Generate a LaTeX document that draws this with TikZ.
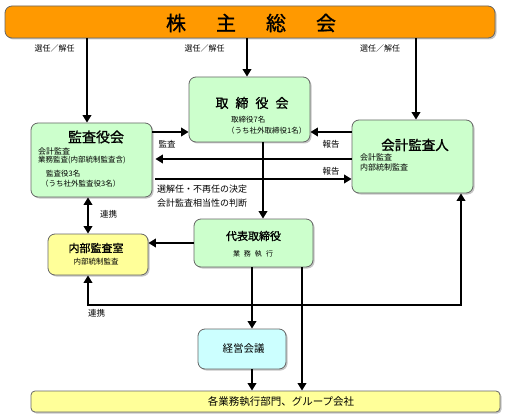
\documentclass[tikz,border=0pt]{standalone}
\usepackage{fontspec}
\setmainfont{Noto Sans CJK JP}
\newfontfamily\heavy{Noto Sans CJK JP}[FakeBold=1.2]
\usetikzlibrary{arrows.meta,shadows}
\definecolor{orangeC}{HTML}{FF9900}
\definecolor{greenC}{HTML}{CCFFCC}
\definecolor{yellowC}{HTML}{FFFF99}
\definecolor{cyanC}{HTML}{CCFFFF}
\tikzset{
  box/.style={draw=black!60, line width=0.8pt, rounded corners=7pt,
    drop shadow={shadow xshift=1.5pt, shadow yshift=-1.5pt, fill=black!45},
    inner sep=0pt},
  arr/.style={line width=2.5pt, -{Triangle[length=7.5pt,width=8.5pt]}},
  dblarr/.style={line width=2.5pt, {Triangle[length=7.5pt,width=8.5pt]}-{Triangle[length=7.5pt,width=8.5pt]}},
  lab/.style={inner sep=0pt, font=\fontsize{8.5}{10}\selectfont},
  sub/.style={inner sep=0pt, anchor=west, font=\fontsize{7.5}{9}\selectfont},
}
\begin{document}
\begin{tikzpicture}[x=1pt,y=-1pt]
\useasboundingbox (0,0) rectangle (506,417);
% boxes
\node[box, fill=orangeC, minimum width=490pt, minimum height=32pt] (top) at (250,22) {};
\node[box, fill=greenC, minimum width=121pt, minimum height=65pt] (tb) at (249.5,109.5) {};
\node[box, fill=greenC, minimum width=121pt, minimum height=73pt] (ka) at (412.5,156.5) {};
\node[box, fill=greenC, minimum width=121pt, minimum height=74pt] (ks) at (91.5,160) {};
\node[box, fill=greenC, minimum width=119pt, minimum height=48pt] (dt) at (253.5,243) {};
\node[box, fill=yellowC, minimum width=100pt, minimum height=41pt] (nb) at (98,254.5) {};
\node[box, fill=cyanC, minimum width=88pt, minimum height=40pt] (kk) at (242,349) {};
\node[box, fill=yellowC, minimum width=469pt, minimum height=21pt, rounded corners=4pt] (bb) at (265.5,401.5) {};
% texts in boxes
\node[inner sep=0pt, font=\heavy\fontsize{20}{22}\selectfont] (tTop) at (251,23) {株\hspace{30pt}主\hspace{30pt}総\hspace{30pt}会};
\node[inner sep=0pt, font=\heavy\fontsize{13}{15}\selectfont] (tTb) at (252,103) {取\hspace{7pt}締\hspace{7pt}役\hspace{7pt}会};
\node[sub] (tTb1) at (231,120) {取締役7名};
\node[sub] (tTb2) at (227,131) {（うち社外取締役1名）};
\node[inner sep=0pt, font=\heavy\fontsize{13.5}{15}\selectfont] (tKa) at (415,145) {会計監査人};
\node[sub, font=\fontsize{8}{9}\selectfont] (tKa1) at (360,157) {会計監査};
\node[sub, font=\fontsize{8}{9}\selectfont] (tKa2) at (360,167) {内部統制監査};
\node[inner sep=0pt, font=\heavy\fontsize{14}{16}\selectfont] (tKs) at (96,137) {監査役会};
\node[sub, font=\fontsize{8}{9}\selectfont] (tKs1) at (38,151) {会計監査};
\node[sub] (tKs2) at (38,160.5) {業務監査(内部統制監査含)};
\node[sub] (tKs3) at (46,174) {監査役3名};
\node[sub] (tKs4) at (41,183.5) {（うち社外監査役3名）};
\node[inner sep=0pt, font=\heavy\fontsize{11}{13}\selectfont] (tDt) at (253.5,236) {代表取締役};
\node[inner sep=0pt, font=\fontsize{7}{9}\selectfont] (tDt1) at (253,254) {業\hspace{4pt}務\hspace{4pt}執\hspace{4pt}行};
\node[inner sep=0pt, font=\heavy\fontsize{11}{13}\selectfont] (tNb) at (96,248) {内部監査室};
\node[inner sep=0pt, font=\fontsize{7.5}{9}\selectfont] (tNb1) at (96,262) {内部統制監査};
\node[inner sep=0pt, font=\fontsize{10.5}{12}\selectfont] (tKk) at (243.5,349) {経営会議};
\node[inner sep=0pt, font=\fontsize{10.5}{12}\selectfont] (tBb) at (281,402) {各業務執行部門、グループ会社};
% coordinates
\coordinate (x1) at (87,0);
\coordinate (x2) at (247,0);
\coordinate (x3) at (416,0);
\coordinate (x4) at (263,0);
\coordinate (x5) at (88,0);
\coordinate (x6) at (461,0);
\coordinate (x7) at (252,0);
\coordinate (x8) at (302,0);
\coordinate (y1) at (0,132);
\coordinate (y2) at (0,159);
\coordinate (y3) at (0,179);
\coordinate (y4) at (0,243);
\coordinate (y5) at (0,305);
% connectors
\draw[arr] (x1 |- top.south) -- (x1 |- ks.north);
\draw[arr] (x2 |- top.south) -- (x2 |- tb.north);
\draw[arr] (x3 |- top.south) -- (x3 |- ka.north);
\draw[arr] (ks.east |- y1) -- (tb.west |- y1);
\draw[arr] (ka.west |- y1) -- (tb.east |- y1);
\draw[arr, shorten >=3pt] (ka.west |- y2) -- (ks.east |- y2);
\draw[arr, shorten <=3pt] (ks.east |- y3) -- (ka.west |- y3);
\draw[arr] (x4 |- tb.south) -- (x4 |- dt.north);
\draw[arr] (dt.west |- y4) -- (nb.east |- y4);
\draw[dblarr] (x5 |- ks.south) -- (x5 |- nb.north);
\draw[dblarr] (x5 |- nb.south) -- (x5 |- y5) -- (x6 |- y5) -- (x6 |- ka.south);
\draw[arr] (x7 |- dt.south) -- (x7 |- kk.north);
\draw[arr] (x7 |- kk.south) -- (x7 |- bb.north);
\draw[arr] (x8 |- dt.south) -- (x8 |- bb.north);
% labels
\node[lab, font=\fontsize{8}{9}\selectfont] (l1) at (54.5,48) {選任／解任};
\node[lab, font=\fontsize{8}{9}\selectfont] (l2) at (204.5,48) {選任／解任};
\node[lab, font=\fontsize{8}{9}\selectfont] (l3) at (380,48) {選任／解任};
\node[lab] (l4) at (167,144) {監査};
\node[lab] (l5) at (331,144) {報告};
\node[lab] (l6) at (331,171) {報告};
\node[lab, anchor=west, font=\fontsize{9}{10}\selectfont] (l7) at (157,189) {選解任・不再任の決定};
\node[lab, anchor=west, font=\fontsize{9}{10}\selectfont] (l8) at (157,203) {会計監査相当性の判断};
\node[lab, anchor=west] (l9) at (100,214) {連携};
\node[lab, anchor=west] (l10) at (88,313) {連携};
\end{tikzpicture}
\end{document}
